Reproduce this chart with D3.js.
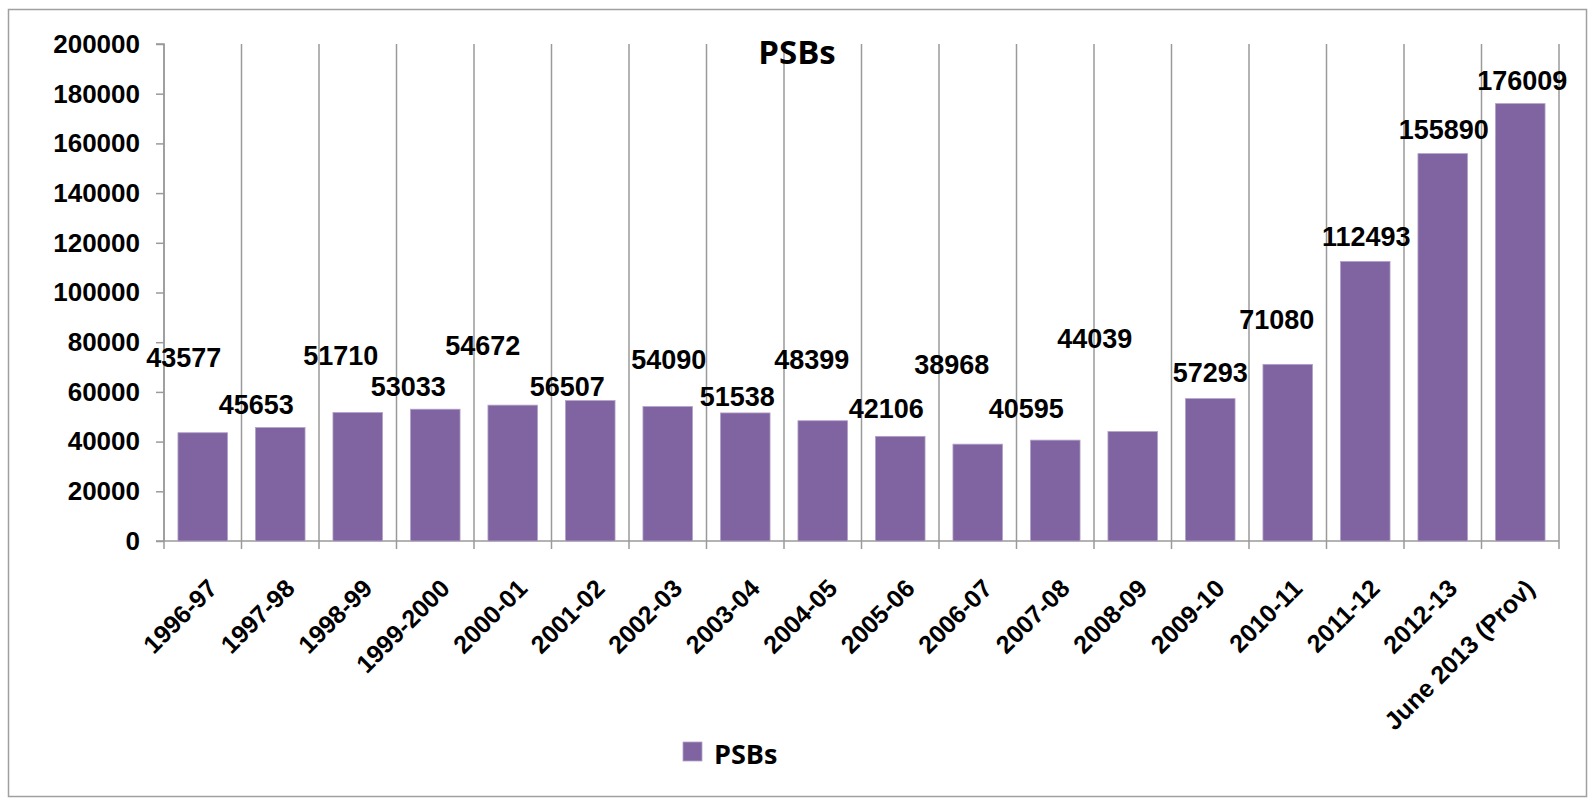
<!DOCTYPE html>
<html>
<head>
<meta charset="utf-8">
<script src="https://cdn.jsdelivr.net/npm/d3@7"></script>
<style>
  html, body { margin: 0; padding: 0; background: #fff; }
  svg { display: block; }
</style>
</head>
<body>
<script>
// ---- data ----
const categories = ["1996-97","1997-98","1998-99","1999-2000","2000-01","2001-02","2002-03","2003-04","2004-05","2005-06","2006-07","2007-08","2008-09","2009-10","2010-11","2011-12","2012-13","June 2013 (Prov)"];
const values = [43577,45653,51710,53033,54672,56507,54090,51538,48399,42106,38968,40595,44039,57293,71080,112493,155890,176009];
const yTicks = [0,20000,40000,60000,80000,100000,120000,140000,160000,180000,200000];
const seriesName = "PSBs";
const chartTitle = "PSBs";
// label placement nudges (pixels) as placed in the reference
const labelDx = [-19,-24,-17,-27,-30,-23,1,-8,-11,-14,-26,-29,-38,0,-11,1,1,2];
const labelDy = [-66,-14,-48,-13,-50,-5,-38,-7,-52,-18,-70,-22,-84,-17,-35,-15,-15,-14];

const W = 1596, H = 806;
const pL = 164, pR = 1559, pT = 44, pB = 541;
const barColor = "#8064A2";
const gridColor = "#9a9a9a";

const svg = d3.select("body").append("svg").attr("width", W).attr("height", H);

// outer border
svg.append("rect").attr("x", 8.5).attr("y", 9.5).attr("width", 1578).attr("height", 787)
  .attr("fill", "#fff").attr("stroke", "#a0a0a0").attr("stroke-width", 1.5);

const x = d3.scaleBand().domain(categories).range([pL, pR]).paddingInner(0.36).paddingOuter(0.18);
const y = d3.scaleLinear().domain([0, 200000]).range([pB, pT]);
const step = x.step();

// vertical gridlines at category boundaries
const boundaries = d3.range(categories.length + 1).map(i => pL + i * step);
svg.append("g").selectAll("line").data(boundaries).join("line")
  .attr("x1", d => d).attr("x2", d => d).attr("y1", pT).attr("y2", pB)
  .attr("stroke", gridColor).attr("stroke-width", 1.5);

// y axis
const yAxis = d3.axisLeft(y).tickValues(yTicks).tickSize(8).tickPadding(16).tickFormat(d3.format("d"));
const gy = svg.append("g").attr("transform", `translate(${pL},0)`).call(yAxis);
gy.select(".domain").attr("stroke", gridColor).attr("stroke-width", 1.5).attr("d", `M-8,${pT}H0V${pB}H-8`);
gy.selectAll(".tick line").attr("stroke", gridColor).attr("stroke-width", 1.5);
gy.selectAll(".tick text").attr("font-family", "'Liberation Sans', Arial, sans-serif")
  .attr("font-weight", "bold").attr("font-size", "26px").attr("fill", "#000");

// x axis line and ticks
svg.append("line").attr("x1", pL).attr("x2", pR).attr("y1", pB).attr("y2", pB)
  .attr("stroke", gridColor).attr("stroke-width", 1.5);
svg.append("g").selectAll("line").data(boundaries).join("line")
  .attr("x1", d => d).attr("x2", d => d).attr("y1", pB).attr("y2", pB + 8)
  .attr("stroke", gridColor).attr("stroke-width", 1.5);

// x labels
svg.append("g").selectAll("text").data(categories).join("text")
  .attr("transform", d => `translate(${x(d) + x.bandwidth() / 2 + 16},${590}) rotate(-45)`)
  .attr("text-anchor", "end")
  .attr("font-family", "'Liberation Sans', Arial, sans-serif")
  .attr("font-weight", "bold").attr("font-size", "25px").attr("fill", "#000")
  .text(d => d);

// bars
svg.append("g").selectAll("rect").data(values).join("rect")
  .attr("x", (d, i) => x(categories[i]))
  .attr("y", d => y(d))
  .attr("width", x.bandwidth())
  .attr("height", d => y(0) - y(d))
  .attr("fill", barColor)
  .attr("stroke", "#b3a2c7").attr("stroke-width", 0.8);

// data labels
svg.append("g").selectAll("text").data(values).join("text")
  .attr("x", (d, i) => x(categories[i]) + x.bandwidth() / 2 + labelDx[i])
  .attr("y", (d, i) => y(d) + labelDy[i])
  .attr("text-anchor", "middle")
  .attr("font-family", "'Liberation Sans', Arial, sans-serif")
  .attr("font-weight", "bold").attr("font-size", "27px").attr("fill", "#000")
  .text(d => d);

// title
svg.append("text").attr("x", 797).attr("y", 64).attr("text-anchor", "middle")
  .attr("font-family", "'Open Sans', 'Noto Sans', sans-serif").attr("font-weight", "bold")
  .attr("font-size", "33px").attr("fill", "#000").text(chartTitle);

// legend
const lg = svg.append("g");
lg.append("rect").attr("x", 683).attr("y", 742).attr("width", 19).attr("height", 19)
  .attr("fill", barColor).attr("stroke", "#b3a2c7").attr("stroke-width", 0.8);
lg.append("text").attr("x", 714).attr("y", 764)
  .attr("font-family", "'Open Sans', 'Noto Sans', sans-serif").attr("font-weight", "bold")
  .attr("font-size", "27px").attr("fill", "#000").text(seriesName);
</script>
</body>
</html>
